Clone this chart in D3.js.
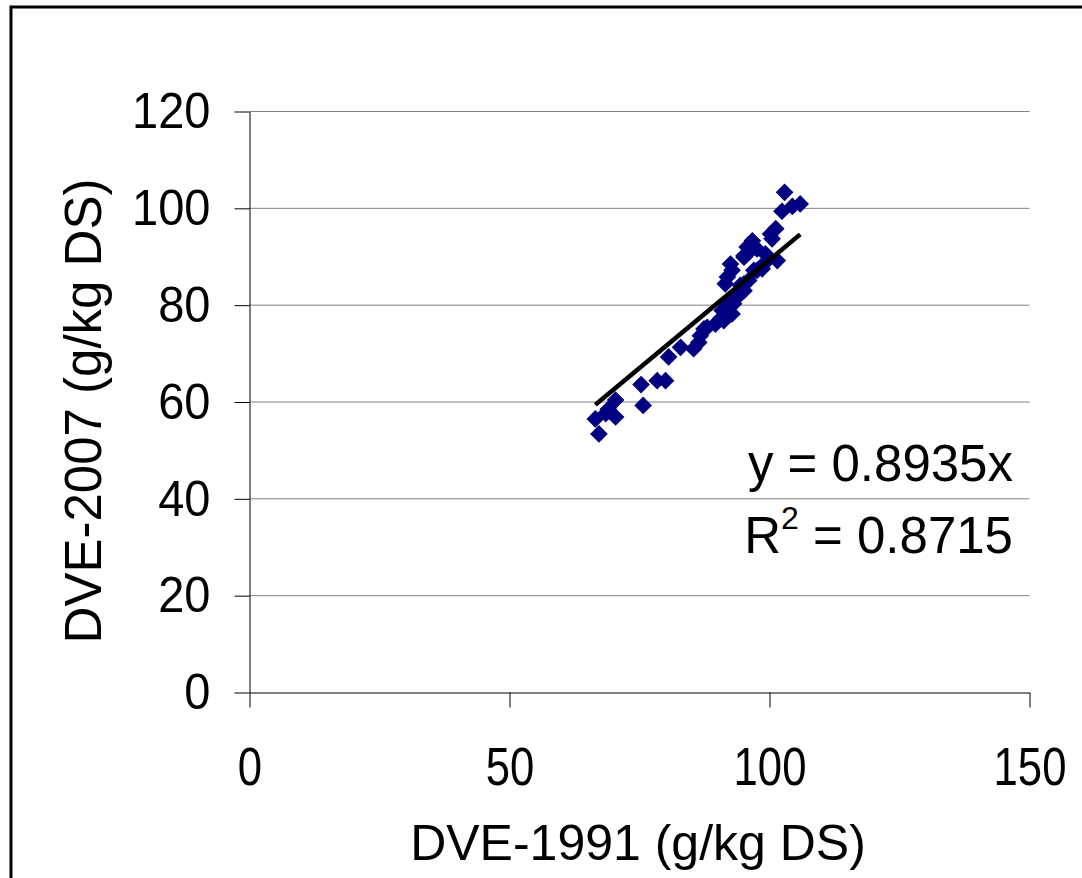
<!DOCTYPE html>
<html>
<head>
<meta charset="utf-8">
<script src="https://cdn.jsdelivr.net/npm/d3@7"></script>
<style>
  body { margin: 0; background: #fff; }
  svg { display: block; font-family: "Liberation Sans", Arial, sans-serif; }
</style>
</head>
<body>
<svg id="chart" width="1082" height="878"></svg>
<script>
// DVE-1991 vs DVE-2007 (g/kg DS)
const dve1991 = [67.2, 66.5, 68.5, 70.4, 70.4, 69.0, 75.7, 75.3, 78.4, 80.0,
    80.6, 82.9, 85.4, 86.4, 86.7, 87.4, 88.0, 89.6, 90.6, 91.2,
    92.8, 90.9, 91.7, 93.1, 93.1, 94.1, 95.1, 94.4, 91.5, 95.1,
    91.9, 96.0, 92.5, 92.8, 97.0, 97.6, 98.6, 98.9, 95.1, 95.1,
    99.2, 101.5, 96.0, 95.7, 96.7, 97.6, 100.5, 100.2, 101.2, 102.4,
    104.4, 105.9, 102.9];
const dve2007 = [53.4, 56.5, 57.6, 56.9, 60.4, 58.5, 59.3, 63.6, 64.4, 64.4,
    69.3, 71.3, 71.0, 72.3, 73.7, 75.1, 75.4, 76.1, 77.2, 76.8,
    78.2, 78.9, 80.3, 80.3, 81.6, 82.0, 83.0, 84.1, 84.4, 84.4,
    85.8, 85.1, 88.5, 87.2, 87.2, 87.2, 87.5, 88.5, 89.9, 90.2,
    90.6, 89.2, 90.9, 92.0, 93.3, 91.6, 93.7, 94.7, 95.8, 99.4,
    100.4, 100.9, 103.3];
const xTicks = [0, 50, 100, 150];
const yTicks = [0, 20, 40, 60, 80, 100, 120];
const slope = 0.8935;
const eqText = "y = 0.8935x";
const r2Value = "0.8715";

const svg = d3.select("#chart");

// outer frame
svg.append("rect")
    .attr("x", 11).attr("y", 7)
    .attr("width", 1100).attr("height", 900)
    .attr("fill", "none")
    .attr("stroke", "#000")
    .attr("stroke-width", 3);

const x = d3.scaleLinear().domain([0, 150]).range([249.5, 1029.5]);
const y = d3.scaleLinear().domain([0, 120]).range([692.5, 111.5]);

// gridlines
svg.append("g")
    .selectAll("line")
    .data(yTicks.filter(d => d > 0))
    .enter()
    .append("line")
    .attr("x1", x(0)).attr("x2", x(150))
    .attr("y1", d => y(d)).attr("y2", d => y(d))
    .attr("stroke", "#808080")
    .attr("stroke-width", 1);

// y axis
const yAxis = svg.append("g")
    .attr("transform", "translate(" + x(0) + ",0)")
    .call(d3.axisLeft(y).tickValues(yTicks).tickSize(15).tickSizeOuter(0).tickPadding(24));
yAxis.select(".domain").attr("stroke", "#000");
yAxis.selectAll(".tick line").attr("stroke", "#000");
yAxis.selectAll(".tick text")
    .attr("font-size", 47)
    .attr("fill", "#000")
    .attr("font-family", "Liberation Sans, Arial, sans-serif")
    .attr("transform", "scale(1,1.08)");

// x axis
const xAxis = svg.append("g")
    .attr("transform", "translate(0," + y(0) + ")")
    .call(d3.axisBottom(x).tickValues(xTicks).tickSize(15).tickSizeOuter(0).tickPadding(0));
xAxis.select(".domain").attr("stroke", "#000");
xAxis.selectAll(".tick line").attr("stroke", "#000");
xAxis.selectAll(".tick text")
    .attr("font-size", 46)
    .attr("fill", "#000")
    .attr("font-family", "Liberation Sans, Arial, sans-serif")
    .attr("dy", null)
    .attr("y", 0)
    .attr("transform", "translate(0,92) scale(0.95,1.15)");

// points
const data = dve1991.map((d, i) => ({ x: d, y: dve2007[i] }));
const diamond = d3.symbol().type(d3.symbolDiamond2).size(200);
svg.append("g")
    .selectAll("path")
    .data(data)
    .enter()
    .append("path")
    .attr("d", diamond)
    .attr("transform", d => "translate(" + x(d.x) + "," + y(d.y) + ")")
    .attr("fill", "#000080");

// trend line through origin
const xMin = d3.min(dve1991), xMax = d3.max(dve1991);
svg.append("line")
    .attr("x1", x(xMin)).attr("y1", y(slope * xMin))
    .attr("x2", x(xMax)).attr("y2", y(slope * xMax))
    .attr("stroke", "#000")
    .attr("stroke-width", 4.5);

// equation labels
svg.append("text")
    .attr("x", 1013).attr("y", 481)
    .attr("text-anchor", "end")
    .attr("font-size", 51)
    .text(eqText);

const r2 = svg.append("text")
    .attr("x", 1013).attr("y", 553)
    .attr("text-anchor", "end")
    .attr("font-size", 51);
r2.append("tspan").text("R");
r2.append("tspan").attr("font-size", 32).attr("dy", -24).text("2");
r2.append("tspan").attr("dy", 24).text(" = " + r2Value);

// axis titles
svg.append("text")
    .attr("x", 638).attr("y", 860)
    .attr("text-anchor", "middle")
    .attr("font-size", 50)
    .text("DVE-1991 (g/kg DS)");

svg.append("text")
    .attr("transform", "translate(101,411) rotate(-90)")
    .attr("text-anchor", "middle")
    .attr("font-size", 51)
    .text("DVE-2007 (g/kg DS)");
</script>
</body>
</html>
